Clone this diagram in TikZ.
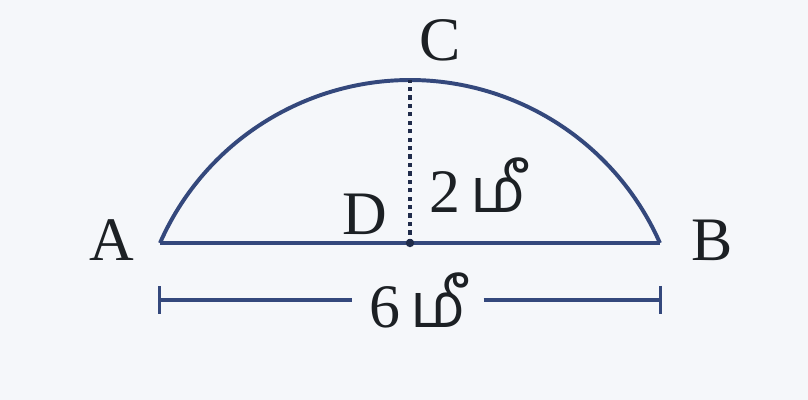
\documentclass[tikz,border=0pt]{standalone}
\usepackage{fontspec}
\setmainfont{Liberation Serif}
\newfontfamily\tamilfont[Script=Tamil]{Hind Madurai}
\usepackage{xcolor}
\usetikzlibrary{arrows.meta,positioning,calc}
\definecolor{bgpaper}{RGB}{245,247,250}
\definecolor{inkblue}{RGB}{52,72,124}
\definecolor{inkdark}{RGB}{28,32,36}
\newcommand{\mee}{{\tamilfont மீ}}

\begin{document}
\begin{tikzpicture}[
  curve/.style={draw=inkblue, line width=2.8pt},
  dimleft/.style={draw=inkblue, line width=2.8pt, {Bar[width=0.7cm,line width=2.4pt]}-},
  dimright/.style={draw=inkblue, line width=2.8pt, -{Bar[width=0.7cm,line width=2.4pt]}},
  height/.style={draw=inkblue!60!black, line width=2.6pt, dash pattern=on 3pt off 3pt},
  lbl/.style={text=inkdark, font=\fontsize{44}{52}\selectfont, inner sep=1pt}
]
\fill[bgpaper] (0,0) rectangle (20.2,-10);
\useasboundingbox (0,0) rectangle (20.2,-10);
% points
\coordinate (A) at (4.0,-6.075);
\coordinate (B) at (16.5,-6.075);
\coordinate (D) at (10.25,-6.075);
\coordinate (C) at (10.25,-2.0);
\coordinate (dl) at (3.95,-7.5);
\coordinate (dr) at (16.55,-7.5);
% segment
\draw[curve] (A) arc[start angle=156.19, end angle=23.81, radius=6.8304];
\draw[curve] (A) -- (B);
\draw[height] (D) -- (C);
\fill[inkblue!60!black] (D) circle (3pt);
% labels
\node[lbl] (lA) at (2.8,-6.0) {A};
\node[lbl] (lB) at (17.8,-6.0) {B};
\node[lbl] (lC) at (11.0,-1.0) {C};
\node[lbl] (lD) at (9.12,-5.37) {D};
\node[lbl] (lh) at (11.95,-4.62) {2\,\mee};
\node[lbl, inner xsep=12pt] (lw) at (10.45,-7.5) {6\,\mee};
% width
\draw[dimleft] (dl) -- (lw.west);
\draw[dimright] (lw.east) -- (dr);
\end{tikzpicture}
\end{document}
